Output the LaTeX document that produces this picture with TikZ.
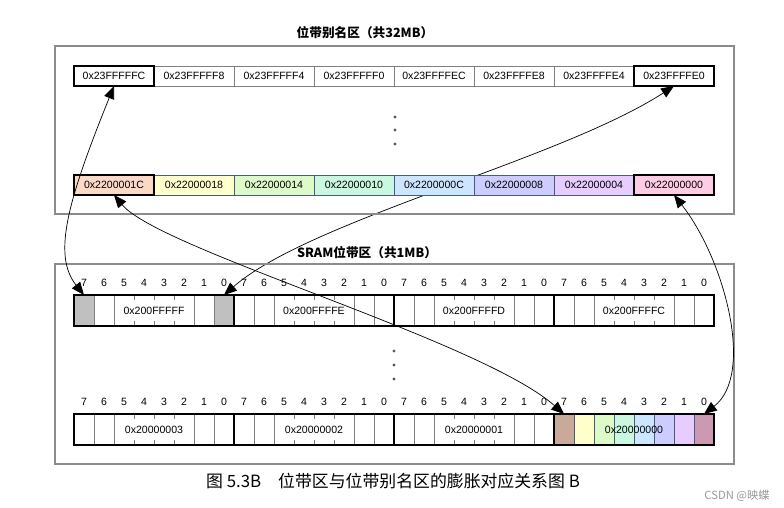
\documentclass[tikz,border=0pt]{standalone}
\usepackage{fontspec}
\setmainfont{Liberation Sans}
\newfontfamily\cjk{Noto Sans CJK SC}
\usepackage{tikz}
\usetikzlibrary{arrows.meta,positioning,backgrounds}
\definecolor{framegray}{HTML}{8C8C8C}
\definecolor{gridgray}{HTML}{7F7F7F}
\definecolor{edgeblue}{HTML}{4A5A7A}
\definecolor{bitgray}{HTML}{C0C0C0}
\definecolor{peach}{HTML}{FBD9C6}
\definecolor{lemon}{HTML}{FFFFCC}
\definecolor{lime}{HTML}{DDFBC8}
\definecolor{mint}{HTML}{C9F7DF}
\definecolor{sky}{HTML}{CCE6FF}
\definecolor{periwinkle}{HTML}{CCCCFF}
\definecolor{lilac}{HTML}{E6CCFF}
\definecolor{rose}{HTML}{FFCCE6}
\definecolor{sramtan}{HTML}{C9AA9A}
\definecolor{mauve}{HTML}{CC99B3}
\newcommand{\cellfont}{\fontsize{7.5}{9}\selectfont}

\begin{document}
\begin{tikzpicture}[x=0.25mm,y=-0.25mm,
  cell/.style={draw=gridgray,line width=0.5pt,minimum width=20mm,minimum height=5mm,inner sep=0pt,outer sep=0pt,font=\cellfont},
  lowcell/.style={cell,draw=edgeblue},
  hilite/.style={line width=2pt},
  bitbox/.style={draw=gridgray,line width=0.5pt,minimum width=5mm,minimum height=7.75mm,inner sep=0pt,outer sep=0pt},
  bitnum/.style={font=\cellfont,inner sep=0pt},
  bytelabel/.style={fill=white,font=\cellfont,minimum width=19.4mm,minimum height=5.2mm,inner sep=0pt},
  bytebox/.style={line width=2pt},
  region/.style={draw=framegray,line width=0.8pt},
  heading/.style={font=\cjk\bfseries\fontsize{9}{11}\selectfont},
  link/.style={{Triangle[length=3.2mm,width=2.6mm]}-{Triangle[length=3.2mm,width=2.6mm]},line width=0.5pt}
]
\useasboundingbox (0,0) rectangle (784,508);

% bit-band alias region
\node[heading] (aliastitle) at (365,33) {位带别名区（共32MB）};
\draw[region] (55,46) rectangle (734,214);
\node[cell] (w7) at (114,76) {0x23FFFFFC};
\node[cell,right=0pt of w7] (w6) {0x23FFFFF8};
\node[cell,right=0pt of w6] (w5) {0x23FFFFF4};
\node[cell,right=0pt of w5] (w4) {0x23FFFFF0};
\node[cell,right=0pt of w4] (w3) {0x23FFFFEC};
\node[cell,right=0pt of w3] (w2) {0x23FFFFE8};
\node[cell,right=0pt of w2] (w1) {0x23FFFFE4};
\node[cell,right=0pt of w1] (w0) {0x23FFFFE0};
\node[lowcell,fill=peach] (c7) at (114,185) {0x2200001C};
\node[lowcell,fill=lemon,right=0pt of c7] (c6) {0x22000018};
\node[lowcell,fill=lime,right=0pt of c6] (c5) {0x22000014};
\node[lowcell,fill=mint,right=0pt of c5] (c4) {0x22000010};
\node[lowcell,fill=sky,right=0pt of c4] (c3) {0x2200000C};
\node[lowcell,fill=periwinkle,right=0pt of c3] (c2) {0x22000008};
\node[lowcell,fill=lilac,right=0pt of c2] (c1) {0x22000004};
\node[lowcell,fill=rose,right=0pt of c1] (c0) {0x22000000};
\foreach \n in {w7,w0,c7,c0}
  \draw[hilite] (\n.north west) rectangle (\n.south east);
\foreach \y in {117,130,144}
  \fill[black!65] (395,\y) circle (0.4mm);

% SRAM bit-band region
\node[heading] (sramtitle) at (367,253) {SRAM位带区（共1MB）};
\draw[region] (55,264) rectangle (734,464);
\foreach \r/\yc in {1/310.5,2/429.5}
  \foreach \k in {0,...,3}
    \foreach \j in {0,...,7} {
      \node[bitbox] (b\r-\k-\j) at ({84+160*\k+20*(7-\j)},\yc) {};
      \node[bitnum,above=2mm of b\r-\k-\j] (n\r-\k-\j) {\j};
    }
\filldraw[fill=bitgray,draw=gridgray] (b1-0-7.north west) rectangle (b1-0-7.south east);
\filldraw[fill=bitgray,draw=gridgray] (b1-0-0.north west) rectangle (b1-0-0.south east);
\foreach \j/\c in {7/sramtan,6/lemon,5/lime,4/mint,3/sky,2/periwinkle,1/lilac,0/mauve}
  \filldraw[fill=\c,draw=edgeblue,line width=0.5pt] (b2-3-\j.north west) rectangle (b2-3-\j.south east);
\foreach \r/\k/\t in {1/0/0x200FFFFF,1/1/0x200FFFFE,1/2/0x200FFFFD,1/3/0x200FFFFC,
                      2/0/0x20000003,2/1/0x20000002,2/2/0x20000001}
  \node[bytelabel] (l\r-\k) at (b\r-\k-4.east) {\t};
\node[font=\cellfont] (l2-3) at (b2-3-4.east) {0x20000000};
\foreach \r in {1,2}
  \foreach \k in {0,...,3}
    \draw[bytebox] (b\r-\k-7.north west) rectangle (b\r-\k-0.south east);
\foreach \y in {351,365,379}
  \fill[black!65] (394,\y) circle (0.4mm);

% mapping arrows
\begin{pgfonlayer}{background}
\draw[link] (b1-0-0.north) .. controls (310,220) and (560,160) .. (w0.south);
\end{pgfonlayer}
\draw[link] (w7.south) .. controls (68,200) and (52,255) .. (b1-0-7.north);
\draw[link] (c7.south) .. controls (160,250) and (480,340) .. (b2-3-7.north);
\draw[link] (c0.south) .. controls (725,260) and (755,375) .. (b2-3-0.north);

\node[font=\cjk\fontsize{12}{14}\selectfont] (caption) at (393,481) {图 5.3B\quad 位带区与位带别名区的膨胀对应关系图 B};
\node[font=\cjk\fontsize{8}{10}\selectfont,text=black!40] (mark) at (737,496) {CSDN @映蝶};
\end{tikzpicture}
\end{document}
